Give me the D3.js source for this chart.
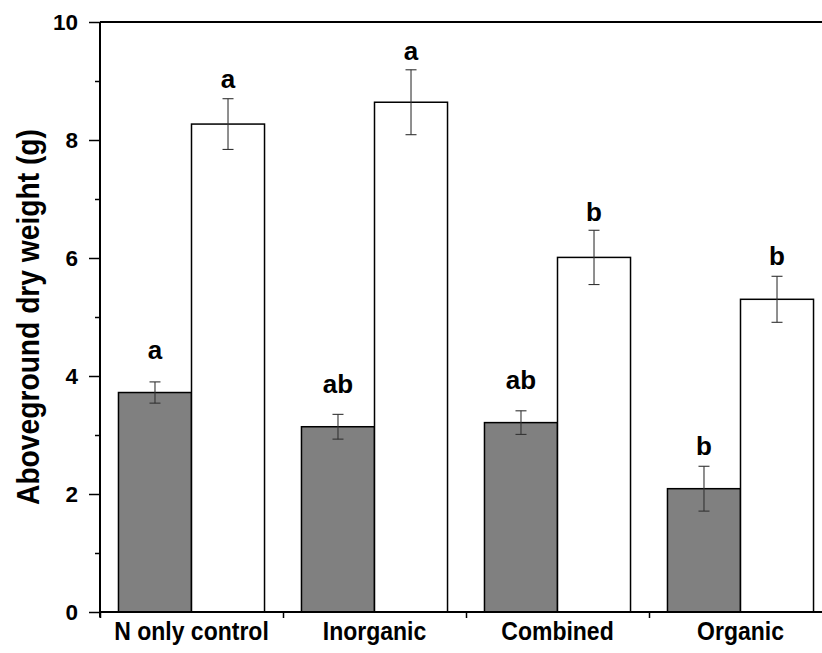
<!DOCTYPE html>
<html>
<head>
<meta charset="utf-8">
<script src="https://cdn.jsdelivr.net/npm/d3@7"></script>
<style>
  html, body { margin: 0; padding: 0; background: #fff; }
  svg { display: block; }
  text { font-family: "Liberation Sans", Arial, sans-serif; fill: #000; }
</style>
</head>
<body>
<svg id="chart" width="822" height="653"></svg>
<script>
// ---- data ----
const categories = ["N only control", "Inorganic", "Combined", "Organic"];
const seriesNames = ["gray", "white"];
const grayValues = [3.72, 3.14, 3.21, 2.09];
const grayErrors = [0.18, 0.21, 0.20, 0.38];
const whiteValues = [8.27, 8.64, 6.01, 5.30];
const whiteErrors = [0.43, 0.55, 0.46, 0.39];
const grayLetters = ["a", "ab", "ab", "b"];
const whiteLetters = ["a", "a", "b", "b"];
const grayLetterAt = [4.29, 3.71, 3.78, 2.66];   // label anchor, data units
const whiteLetterAt = [8.88, 9.36, 6.63, 5.88];
const yTicks = [0, 2, 4, 6, 8, 10];
const yMinorTicks = [1, 3, 5, 7, 9];
const yLabel = "Aboveground dry weight (g)";

// ---- layout ----
const plotLeft = 100, plotRight = 832, plotTop = 22, plotBottom = 612;
const svg = d3.select("#chart");

const x = d3.scaleBand().domain(categories).range([plotLeft, plotRight]).padding(0);
const xs = d3.scaleBand().domain(seriesNames).range([0, x.bandwidth()])
  .paddingInner(0).paddingOuter(0.253);
const y = d3.scaleLinear().domain([0, 10]).range([plotBottom, plotTop]);

const rows = [];
categories.forEach((c, i) => {
  rows.push({ cat: c, s: "gray", v: grayValues[i], e: grayErrors[i], l: grayLetters[i], la: grayLetterAt[i] });
  rows.push({ cat: c, s: "white", v: whiteValues[i], e: whiteErrors[i], l: whiteLetters[i], la: whiteLetterAt[i] });
});
const fill = { gray: "#808080", white: "#ffffff" };

// bars
svg.append("g").selectAll("rect").data(rows).join("rect")
  .attr("x", d => x(d.cat) + xs(d.s))
  .attr("y", d => y(d.v))
  .attr("width", xs.bandwidth())
  .attr("height", d => y(0) - y(d.v))
  .attr("fill", d => fill[d.s])
  .attr("stroke", "#000")
  .attr("stroke-width", 1.5);

// error bars
const eg = svg.append("g").attr("stroke", "#333").attr("stroke-width", 1.1);
rows.forEach(d => {
  const cx = x(d.cat) + xs(d.s) + xs.bandwidth() / 2;
  eg.append("line").attr("x1", cx).attr("x2", cx).attr("y1", y(d.v + d.e)).attr("y2", y(d.v - d.e));
  eg.append("line").attr("x1", cx - 5.5).attr("x2", cx + 5.5).attr("y1", y(d.v + d.e)).attr("y2", y(d.v + d.e));
  eg.append("line").attr("x1", cx - 5.5).attr("x2", cx + 5.5).attr("y1", y(d.v - d.e)).attr("y2", y(d.v - d.e));
});

// letters
svg.append("g").selectAll("text").data(rows).join("text")
  .attr("x", d => x(d.cat) + xs(d.s) + xs.bandwidth() / 2)
  .attr("y", d => y(d.la))
  .attr("text-anchor", "middle")
  .attr("font-size", 26)
  .attr("font-weight", "bold")
  .text(d => d.l);

// top frame line
svg.append("line").attr("x1", plotLeft).attr("x2", plotRight).attr("y1", plotTop).attr("y2", plotTop)
  .attr("stroke", "#000").attr("stroke-width", 2);

// y axis
const ya = svg.append("g").attr("transform", `translate(${plotLeft},0)`)
  .call(d3.axisLeft(y).tickValues(yTicks).tickSize(11).tickPadding(11).tickFormat(d3.format("d")));
ya.select(".domain").attr("stroke", "#000").attr("stroke-width", 2).attr("d", `M0,${plotBottom + 5.5}V${plotTop}`);
ya.selectAll(".tick line").attr("stroke", "#000").attr("stroke-width", 1.5);
ya.selectAll(".tick text").attr("font-size", 22.5).attr("font-weight", "bold")
  .attr("font-family", "Liberation Sans, Arial, sans-serif").attr("fill", "#000");
const yminor = svg.append("g").attr("transform", `translate(${plotLeft},0)`)
  .call(d3.axisLeft(y).tickValues(yMinorTicks).tickSize(5).tickFormat(""));
yminor.select(".domain").remove();
yminor.selectAll(".tick line").attr("stroke", "#000").attr("stroke-width", 1.5);

// x axis
const boundaries = categories.map(c => x(c)).concat([plotRight]);
const xb = d3.scaleLinear().domain([plotLeft, plotRight]).range([plotLeft, plotRight]);
const xa = svg.append("g").attr("transform", `translate(0,${plotBottom})`)
  .call(d3.axisBottom(xb).tickValues(boundaries).tickSize(6).tickFormat(""));
xa.select(".domain").attr("stroke", "#000").attr("stroke-width", 2).attr("d", `M${plotLeft - 1},0H${plotRight}`);
xa.selectAll(".tick line").attr("stroke", "#000").attr("stroke-width", 1.5);

svg.append("g").selectAll("text").data(categories).join("text")
  .attr("transform", d => `translate(${x(d) + x.bandwidth() / 2},640) scale(0.92,1)`)
  .attr("text-anchor", "middle")
  .attr("font-size", 25)
  .attr("font-weight", "bold")
  .text(d => d);

// y label
svg.append("text")
  .attr("transform", `translate(39,${(plotTop + plotBottom) / 2}) rotate(-90) scale(0.91,1)`)
  .attr("text-anchor", "middle")
  .attr("font-size", 31)
  .attr("font-weight", "bold")
  .text(yLabel);
</script>
</body>
</html>
